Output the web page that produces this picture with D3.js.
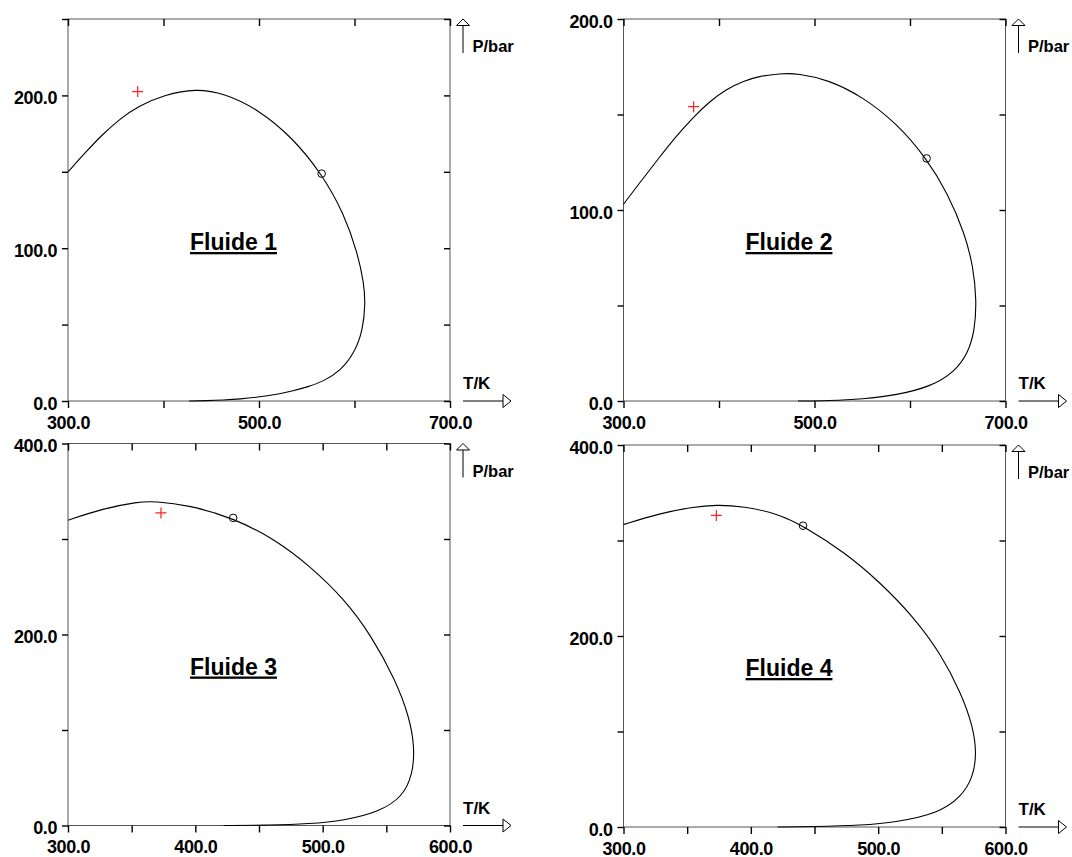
<!DOCTYPE html>
<html><head><meta charset="utf-8">
<script src="https://cdn.jsdelivr.net/npm/d3@7"></script>
<style>
html,body{margin:0;padding:0;background:#fff;}
svg{display:block;}
.ax text{font-family:"Liberation Sans",Arial,Helvetica,sans-serif;font-weight:bold;font-size:18px;letter-spacing:-0.4px;fill:#000;}
.lbl{font-family:"Liberation Sans",Arial,Helvetica,sans-serif;font-weight:bold;fill:#000;}
</style>
</head><body>
<svg id="chart" width="1072" height="857"></svg>
<script>
// ---------------- data ----------------
const titles = ["Fluide 1", "Fluide 2", "Fluide 3", "Fluide 4"];
const xAxisName = "T/K";
const yAxisName = "P/bar";

const xDomain12 = [300, 700];
const xDomain34 = [300, 600];
const yDomain1 = [0, 250];
const yDomain2 = [0, 200];
const yDomain34 = [0, 400];

const xTicks12 = [300, 400, 500, 600, 700];
const xLabels12 = [300, 500, 700];
const xTicks34 = [300, 350, 400, 450, 500, 550, 600];
const xLabels34 = [300, 400, 500, 600];
const yTicks1 = [0, 50, 100, 150, 200, 250];
const yTicks2 = [0, 50, 100, 150, 200];
const yTicks34 = [0, 100, 200, 300, 400];
const yLabels12 = [0, 100, 200];
const yLabels34 = [0, 200, 400];

// phase envelopes [T (K), P (bar)]
const curve1 = [[300,149.9],[318.7,163.0],[336.8,174.9],[354.8,184.8],[372.8,192.8],[401.6,200.6],[434.1,204.4],[462.9,201.5],[498.9,191.0],[534.9,172.5],[565.6,148.8],[589.0,122.7],[603.4,96.5],[609.9,76.9],[611.4,63.8],[608.8,46.4],[599.8,31.2],[585.4,19.8],[567.4,12.8],[550.0,9.0],[534.9,6.6],[516.9,4.1],[498.9,2.5],[480.9,1.3],[462.9,0.6],[444.9,0.2],[426.8,0]];
const curve2 = [[300,103.0],[318.9,115.5],[336.7,127.0],[354.5,138.3],[373.4,148.8],[390.6,157.0],[407.9,163.3],[425.7,167.6],[443.5,170.2],[463.0,171.4],[482.7,171.6],[514.8,168.1],[550.4,159.3],[586.0,145.4],[617.4,127.0],[639.5,108.7],[657.3,87.8],[666.2,70.3],[669.7,52.9],[667.9,37.2],[660.8,25.0],[646.6,15.2],[621.6,7.5],[586.0,3.1],[550.4,1.0],[514.8,0.2],[482.7,0]];
const curve3 = [[300,319.7],[327.6,331.9],[354.6,338.9],[368.1,339.6],[395.1,335.4],[429.7,322.1],[462.7,299.5],[489.7,272.0],[516.8,237.5],[538.4,198.5],[557.3,152.0],[568.1,113.5],[572.2,82.1],[570.8,54.1],[562.7,29.7],[543.8,14.0],[516.8,5.2],[489.7,1.7],[457.3,0.3],[422.2,0]];
const curve4 = [[300,316.6],[327.5,328.1],[354.2,335.1],[372.9,337.5],[394.3,335.8],[421.0,328.1],[441.0,315.5],[474.4,287.0],[501.2,256.5],[527.9,219.9],[549.2,181.5],[565.3,139.6],[574.6,104.7],[577.3,76.8],[574.6,52.4],[565.3,31.4],[546.6,14.0],[514.5,5.2],[487.8,1.7],[447.7,0.3],[421.0,0]];

// critical points (circles) and red crosses [T, P]
const criticalPoints = [[565.6,148.8],[617.4,127.0],[429.7,322.1],[441.0,315.5]];
const crossPoints = [[373.0,202.5],[373.4,154.1],[373.0,327.3],[372.9,326.3]];

// ---------------- drawing ----------------
const panels = [
  {title: titles[0], xd: xDomain12, yd: yDomain1, xt: xTicks12, xl: xLabels12, yt: yTicks1, yl: yLabels12, curve: curve1, crit: criticalPoints[0], cross: crossPoints[0]},
  {title: titles[1], xd: xDomain12, yd: yDomain2, xt: xTicks12, xl: xLabels12, yt: yTicks2, yl: yLabels12, curve: curve2, crit: criticalPoints[1], cross: crossPoints[1]},
  {title: titles[2], xd: xDomain34, yd: yDomain34, xt: xTicks34, xl: xLabels34, yt: yTicks34, yl: yLabels34, curve: curve3, crit: criticalPoints[2], cross: crossPoints[2]},
  {title: titles[3], xd: xDomain34, yd: yDomain34, xt: xTicks34, xl: xLabels34, yt: yTicks34, yl: yLabels34, curve: curve4, crit: criticalPoints[3], cross: crossPoints[3]}
];
const origins = [[68, 19], [623.5, 19], [68, 443.5], [623.5, 445]];
const W = 382, H = 382;

const svg = d3.select("#chart");
svg.append("rect").attr("width", 1072).attr("height", 857).attr("fill", "#fff");

panels.forEach((p, i) => {
  const g = svg.append("g").attr("transform", `translate(${origins[i][0]},${origins[i][1]})`);
  const x = d3.scaleLinear().domain(p.xd).range([0, W]);
  const y = d3.scaleLinear().domain(p.yd).range([H, 0]);
  const fmt = labels => d => labels.includes(d) ? d.toFixed(1) : "";

  g.append("rect").attr("width", W).attr("height", H)
    .attr("fill", "none").attr("stroke", "#555").attr("stroke-width", 1);

  const left = g.append("g").attr("class", "ax")
    .call(d3.axisLeft(y).tickValues(p.yt).tickSize(6).tickPadding(5).tickFormat(fmt(p.yl)));
  left.selectAll("text").attr("dy", "0.45em");
  const right = g.append("g").attr("class", "ax").attr("transform", `translate(${W},0)`)
    .call(d3.axisLeft(y).tickValues(p.yt).tickSize(6).tickFormat(""));
  const top = g.append("g").attr("class", "ax")
    .call(d3.axisBottom(x).tickValues(p.xt).tickSize(7).tickFormat(""));
  const bottom = g.append("g").attr("class", "ax").attr("transform", `translate(0,${H})`)
    .call(d3.axisBottom(x).tickValues(p.xt).tickSize(7).tickPadding(8).tickFormat(fmt(p.xl)));
  [left, right, top, bottom].forEach(a => {
    a.select(".domain").remove();
    a.selectAll(".tick line").attr("stroke", "#000").attr("stroke-width", 1.4);
  });

  // axis arrows
  g.append("line").attr("x1", W + 13).attr("x2", W + 53).attr("y1", H).attr("y2", H)
    .attr("stroke", "#000").attr("stroke-width", 1);
  g.append("path").attr("d", `M${W + 53},${H - 6.5}L${W + 61},${H}L${W + 53},${H + 6.5}Z`)
    .attr("fill", "#fff").attr("stroke", "#000").attr("stroke-width", 1);
  g.append("line").attr("x1", W + 13).attr("x2", W + 13).attr("y1", 34).attr("y2", 6.5)
    .attr("stroke", "#000").attr("stroke-width", 1);
  g.append("path").attr("d", `M${W + 6.5},6.5L${W + 13},0L${W + 19.5},6.5Z`)
    .attr("fill", "#fff").attr("stroke", "#000").attr("stroke-width", 1);
  g.append("text").attr("class", "lbl").attr("x", W + 22.5).attr("y", 33)
    .attr("font-size", 16.5).text(yAxisName);
  g.append("text").attr("class", "lbl").attr("x", W + 13).attr("y", H - 12)
    .attr("font-size", 17).text(xAxisName);

  // envelope
  const line = d3.line().x(d => x(d[0])).y(d => y(d[1])).curve(d3.curveBasis);
  g.append("path").datum(p.curve).attr("d", line)
    .attr("fill", "none").attr("stroke", "#000").attr("stroke-width", 1.1);

  // critical point
  g.append("circle").attr("cx", x(p.crit[0])).attr("cy", y(p.crit[1])).attr("r", 3.8)
    .attr("fill", "none").attr("stroke", "#000").attr("stroke-width", 1);

  // red cross
  const cx = x(p.cross[0]), cy = y(p.cross[1]);
  g.append("path").attr("d", `M${cx - 5.5},${cy}H${cx + 5.5}M${cx},${cy - 5.5}V${cy + 5.5}`)
    .attr("stroke", "#ff2020").attr("stroke-width", 1.2).attr("fill", "none");

  // title
  g.append("text").attr("class", "lbl").attr("x", 165.5).attr("y", 231)
    .attr("text-anchor", "middle").attr("font-size", 23)
    .attr("text-decoration", "underline").text(p.title);
});
</script>
</body></html>
